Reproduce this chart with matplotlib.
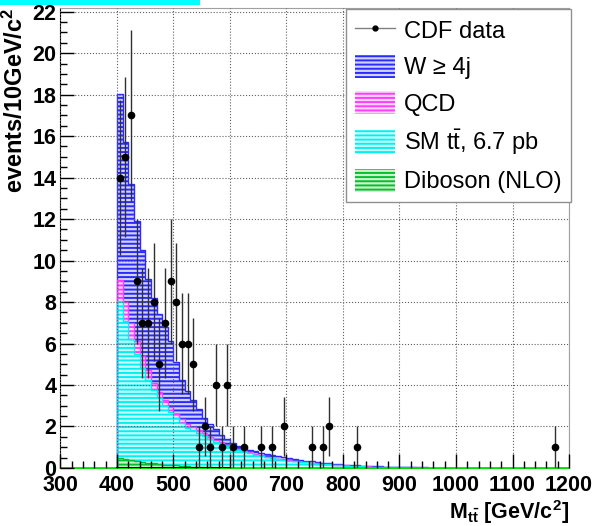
import numpy as np
import matplotlib
matplotlib.use('Agg')
import matplotlib.pyplot as plt
from matplotlib.patches import Patch, Rectangle
from matplotlib.lines import Line2D
from matplotlib.ticker import MultipleLocator

plt.rcParams['font.family'] = ['Liberation Sans', 'DejaVu Sans']
plt.rcParams['font.weight'] = 'bold'
plt.rcParams['mathtext.default'] = 'regular'
plt.rcParams['hatch.linewidth'] = 1.4

# 10 GeV bins from 400 to 950
edges = np.arange(400, 951, 10)

# stacked levels (top of each layer)
# W>=4j on top of everything
stack_w = [18.05, 15.7, 13.7, 11.9, 10.5, 9.1, 8.2, 7.4, 6.8, 6.1,
           5.1, 4.25, 3.7, 3.3, 2.85, 2.4, 2.1, 1.9, 1.6, 1.4,
           1.2, 1.08, 0.98, 0.89, 0.81, 0.74, 0.68, 0.62, 0.57, 0.52,
           0.48, 0.44, 0.4, 0.36, 0.32, 0.29, 0.26, 0.23, 0.2, 0.18,
           0.16, 0.14, 0.12, 0.11, 0.1, 0.09, 0.08, 0.07, 0.06, 0.05,
           0.045, 0.04, 0.035, 0.03, 0.025]
# QCD + ttbar + diboson
stack_qcd = [9.07, 8.0, 7.0, 6.1, 5.4, 4.7, 4.1, 3.68, 3.27, 2.95,
             2.62, 2.35, 2.13, 1.98, 1.84, 1.67, 1.51, 1.37, 1.24, 1.13,
             1.02, 0.93, 0.84, 0.76, 0.68, 0.61, 0.55, 0.5, 0.45, 0.41,
             0.38, 0.35, 0.31, 0.28, 0.25, 0.22, 0.2, 0.18, 0.16, 0.14,
             0.12, 0.11, 0.1, 0.09, 0.08, 0.07, 0.06, 0.05, 0.045, 0.04,
             0.035, 0.03, 0.025, 0.02, 0.015]
# ttbar + diboson
stack_tt = [8.06, 7.1, 6.2, 5.5, 4.8, 4.25, 3.76, 3.38, 3.0, 2.7,
            2.4, 2.15, 1.95, 1.82, 1.7, 1.55, 1.4, 1.27, 1.15, 1.05,
            0.95, 0.87, 0.79, 0.71, 0.64, 0.57, 0.52, 0.47, 0.43, 0.39,
            0.36, 0.33, 0.3, 0.27, 0.24, 0.21, 0.19, 0.17, 0.15, 0.13,
            0.11, 0.1, 0.09, 0.08, 0.07, 0.06, 0.05, 0.045, 0.04, 0.035,
            0.03, 0.025, 0.02, 0.015, 0.01]
# diboson
stack_vv = [0.5, 0.45, 0.38, 0.33, 0.28, 0.25, 0.22, 0.19, 0.16, 0.14,
            0.12, 0.1, 0.08, 0.06, 0.05, 0.04, 0.03, 0.02, 0.015, 0.01,
            0, 0, 0, 0, 0, 0, 0, 0, 0, 0,
            0, 0, 0, 0, 0, 0, 0, 0, 0, 0,
            0, 0, 0, 0, 0, 0, 0, 0, 0, 0,
            0, 0, 0, 0, 0]

# CDF data (bin centres, counts)
data_x = [405, 415, 425, 435, 445, 455, 465, 475, 485, 495,
          505, 515, 525, 535, 545, 555, 565, 575, 585, 595,
          605, 625, 655, 675, 695, 745, 765, 775, 825, 1175]
data_n = [14, 15, 17, 9, 7, 7, 8, 5, 7, 9,
          8, 6, 6, 5, 1, 2, 1, 4, 1, 4,
          1, 1, 1, 1, 2, 1, 1, 2, 1, 1]

layers = [
    ('W \u2265 4j', stack_w, '#2a2aff', '#d2d2ff'),
    ('QCD', stack_qcd, '#ff3cff', '#ffd6ff'),
    ('SM $t\\bar{t}$, 6.7 pb', stack_tt, '#00f0f0', '#ccffff'),
    ('Diboson (NLO)', stack_vv, '#00c030', '#ccf2cc'),
]

fig = plt.figure(figsize=(5.96, 5.26), dpi=100)
ax = fig.add_axes([0.1015, 0.1103, 0.8532, 0.8754])

handles = []
for label, vals, col, face in layers:
    ax.stairs(vals, edges, fill=True, facecolor=face, edgecolor=col,
              hatch='----', linewidth=0, zorder=1)
    ax.stairs(vals, edges, color=col, linewidth=1, zorder=1.1)
    handles.append(Patch(facecolor=face, edgecolor=col, hatch='----',
                         linewidth=0, label=label))

# baseline lines
ax.axhline(0, color='#00e000', lw=2, zorder=2)
ax.plot([400, 600], [0, 0], color='black', lw=1.5, zorder=2.1)

yerr = np.sqrt(np.array(data_n, dtype=float))
ax.errorbar(data_x, data_n, yerr=yerr, fmt='o', color='black', ms=4.5,
            ecolor='#303030', elinewidth=1, capsize=0, zorder=3)
handles.insert(0, Line2D([], [], color='#808080', lw=1, marker='o',
                         mfc='black', mec='black', ms=3.5, label='CDF data'))

ax.set_xlim(300, 1200)
ax.set_ylim(0, 22.2)
ax.set_xticks(np.arange(300, 1201, 100))
ax.set_yticks(np.arange(0, 23, 2))
ax.xaxis.set_minor_locator(MultipleLocator(20))
ax.yaxis.set_minor_locator(MultipleLocator(0.5))
ax.tick_params(which='major', direction='in', length=10, width=1,
               labelsize=15.5, top=False, right=False, color='black')
ax.tick_params(which='minor', direction='in', length=5, width=1,
               top=False, right=False, color='black')
ax.tick_params(axis='x', pad=5)
ax.tick_params(axis='y', pad=3)

ax.set_axisbelow(False)
ax.grid(True, which='major', color='#606060', ls=':', lw=0.8)

ax.spines['left'].set_color('black')
ax.spines['bottom'].set_color('#00e000')
ax.spines['top'].set_color('#a0a0a0')
ax.spines['right'].set_color('#a0a0a0')

ax.set_ylabel('events/10GeV/c$^{2}$', fontsize=17, fontweight='bold',
              loc='top', labelpad=3)
ax.set_xlabel('M$_{t\\bar{t}}$ [GeV/c$^{2}$]', fontsize=15.5,
              fontweight='bold', loc='right', labelpad=1.5)

leg = ax.legend(handles=handles, loc='upper right', bbox_to_anchor=(1.003, 0.996),
                borderaxespad=0, prop={'weight': 'normal', 'size': 17},
                handlelength=1.7, handleheight=1.14, labelspacing=0.5,
                handletextpad=0.38, borderpad=0.37, fancybox=False,
                framealpha=1, edgecolor='#909090')
leg.get_frame().set_linewidth(1)
leg.set_zorder(5)

# cyan strip at top-left corner
fig.patches.append(Rectangle((0, 1 - 5 / 526), 200 / 596, 5 / 526,
                             transform=fig.transFigure, facecolor='#00ffff',
                             edgecolor='none'))

fig.savefig('out.png', dpi=100)
